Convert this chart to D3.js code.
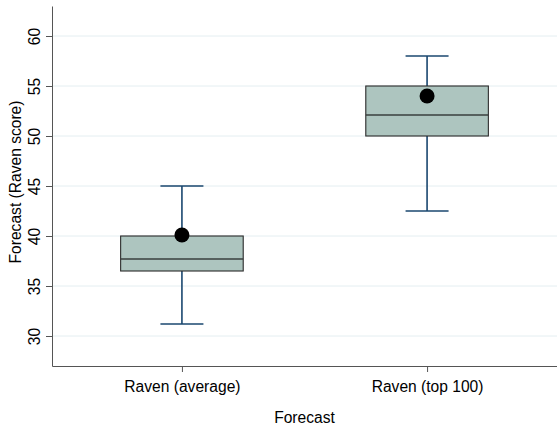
<!DOCTYPE html>
<html>
<head>
<meta charset="utf-8">
<script src="https://cdn.jsdelivr.net/npm/d3@7/dist/d3.min.js"></script>
<style>
  html, body { margin: 0; padding: 0; background: #fff; }
  svg { display: block; font-family: "Liberation Sans", Arial, Helvetica, sans-serif; }
</style>
</head>
<body>
<svg id="chart" width="557" height="426"></svg>
<script>
// Forecast groups and their box-plot summaries (Raven score)
const categories = ["Raven (average)", "Raven (top 100)"];
const q1 = [36.5, 50.0];
const median = [37.7, 52.1];
const q3 = [40.0, 55.0];
const whiskerLow = [31.2, 42.5];
const whiskerHigh = [45.0, 58.0];
const actual = [40.1, 54.0];
const yTicks = [30, 35, 40, 45, 50, 55, 60];

const svg = d3.select("#chart");
const plot = { left: 52, right: 557, top: 6, bottom: 366 };
const fontSize = "15.6px";

const y = d3.scaleLinear().domain([27, 63]).range([plot.bottom, plot.top]);
const x = d3.scalePoint().domain(categories).range([plot.left, plot.right]).padding(0.53);
const boxW = x.step() * 0.5;
const capW = 43;

// horizontal grid lines
svg.append("g").selectAll("line").data(yTicks).join("line")
  .attr("x1", plot.left).attr("x2", plot.right)
  .attr("y1", d => y(d)).attr("y2", d => y(d))
  .attr("stroke", "#e4eef1").attr("stroke-width", 1);

// y axis
const yAxis = svg.append("g")
  .attr("transform", `translate(${plot.left},0)`)
  .call(d3.axisLeft(y).tickValues(yTicks).tickSize(6).tickSizeOuter(0).tickPadding(7));
yAxis.select(".domain").attr("stroke", "#555");
yAxis.selectAll(".tick line").attr("stroke", "#555");
yAxis.selectAll(".tick text")
  .attr("font-size", fontSize).attr("fill", "#000")
  .attr("text-anchor", "middle")
  .attr("transform", "rotate(-90)")
  .attr("x", 0).attr("y", -12).attr("dy", 0);

// x axis
const xAxis = svg.append("g")
  .attr("transform", `translate(0,${plot.bottom})`)
  .call(d3.axisBottom(x).tickSize(6).tickSizeOuter(0).tickPadding(6));
xAxis.select(".domain").attr("stroke", "#555");
xAxis.selectAll(".tick line").attr("stroke", "#555");
xAxis.selectAll(".tick text").attr("font-size", fontSize).attr("fill", "#000").attr("dy", "0.9em");

// axis titles
svg.append("text")
  .attr("x", (plot.left + plot.right) / 2).attr("y", 423)
  .attr("text-anchor", "middle").attr("font-size", fontSize).text("Forecast");
svg.append("text")
  .attr("transform", `translate(21,${(plot.top + plot.bottom) / 2 - 4}) rotate(-90)`)
  .attr("text-anchor", "middle").attr("font-size", fontSize).text("Forecast (Raven score)");

// box plots
const groups = svg.append("g").selectAll("g").data(categories).join("g");
const whiskerColor = "#1a476f";

groups.append("line")
  .attr("x1", d => x(d)).attr("x2", d => x(d))
  .attr("y1", (d, i) => y(whiskerHigh[i])).attr("y2", (d, i) => y(q3[i]))
  .attr("stroke", whiskerColor).attr("stroke-width", 1.6);
groups.append("line")
  .attr("x1", d => x(d)).attr("x2", d => x(d))
  .attr("y1", (d, i) => y(q1[i])).attr("y2", (d, i) => y(whiskerLow[i]))
  .attr("stroke", whiskerColor).attr("stroke-width", 1.6);
groups.append("line")
  .attr("x1", d => x(d) - capW / 2).attr("x2", d => x(d) + capW / 2)
  .attr("y1", (d, i) => y(whiskerHigh[i])).attr("y2", (d, i) => y(whiskerHigh[i]))
  .attr("stroke", whiskerColor).attr("stroke-width", 1.6);
groups.append("line")
  .attr("x1", d => x(d) - capW / 2).attr("x2", d => x(d) + capW / 2)
  .attr("y1", (d, i) => y(whiskerLow[i])).attr("y2", (d, i) => y(whiskerLow[i]))
  .attr("stroke", whiskerColor).attr("stroke-width", 1.6);

groups.append("rect")
  .attr("x", d => x(d) - boxW / 2).attr("width", boxW)
  .attr("y", (d, i) => y(q3[i])).attr("height", (d, i) => y(q1[i]) - y(q3[i]))
  .attr("fill", "#adc5bf").attr("stroke", "#2b2b2b").attr("stroke-width", 1.1);
groups.append("line")
  .attr("x1", d => x(d) - boxW / 2).attr("x2", d => x(d) + boxW / 2)
  .attr("y1", (d, i) => y(median[i])).attr("y2", (d, i) => y(median[i]))
  .attr("stroke", "#3a3f3e").attr("stroke-width", 1.3);

// actual score markers
groups.append("circle")
  .attr("cx", d => x(d)).attr("cy", (d, i) => y(actual[i]))
  .attr("r", 7.5).attr("fill", "#000");
</script>
</body>
</html>
